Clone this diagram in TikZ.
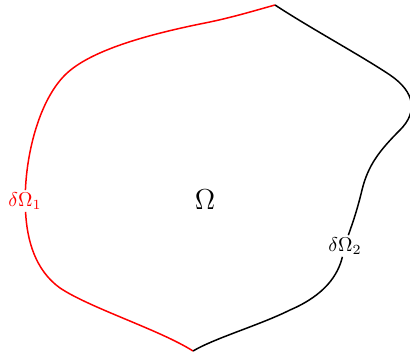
\documentclass[tikz,border=0pt]{standalone}
\begin{document}
\begin{tikzpicture}[x=0.5pt,y=-0.5pt]
        \useasboundingbox (0,0) rectangle (410,356);
        \tikzset{borde/.style={line width=0.75pt},
                 etiq/.style={fill=white,inner sep=1pt}}
        % Puntos y etiquetas
        \coordinate (arriba) at (275,5);
        \coordinate (abajo) at (193,351);
        \node[etiq,text=red] (d1) at (25,201) {$\delta\Omega_1$};
        \node[etiq] (d2) at (345,246) {$\delta\Omega_2$};
        \node (om) at (205,200) {\Large $\Omega$};
        % Frontera 1
        \draw[borde,red] (arriba) .. controls (250,12) and (230,18) .. (205,23)
            .. controls (150,34) and (90,50) .. (65,75)
            .. controls (40,100) and (27,150) .. (d1);
        \draw[borde,red] (d1) .. controls (27,240) and (35,270) .. (60,288)
            .. controls (90,308) and (160,330) .. (abajo);
        % Frontera 2
        \draw[borde] (arriba) .. controls (310,28) and (360,55) .. (390,75)
            .. controls (415,92) and (418,112) .. (400,130)
            .. controls (380,150) and (368,165) .. (362,190)
            .. controls (356,215) and (350,230) .. (d2);
        \draw[borde] (d2) .. controls (338,275) and (325,295) .. (290,310)
            .. controls (260,325) and (215,338) .. (abajo);
    \end{tikzpicture}
\end{document}
